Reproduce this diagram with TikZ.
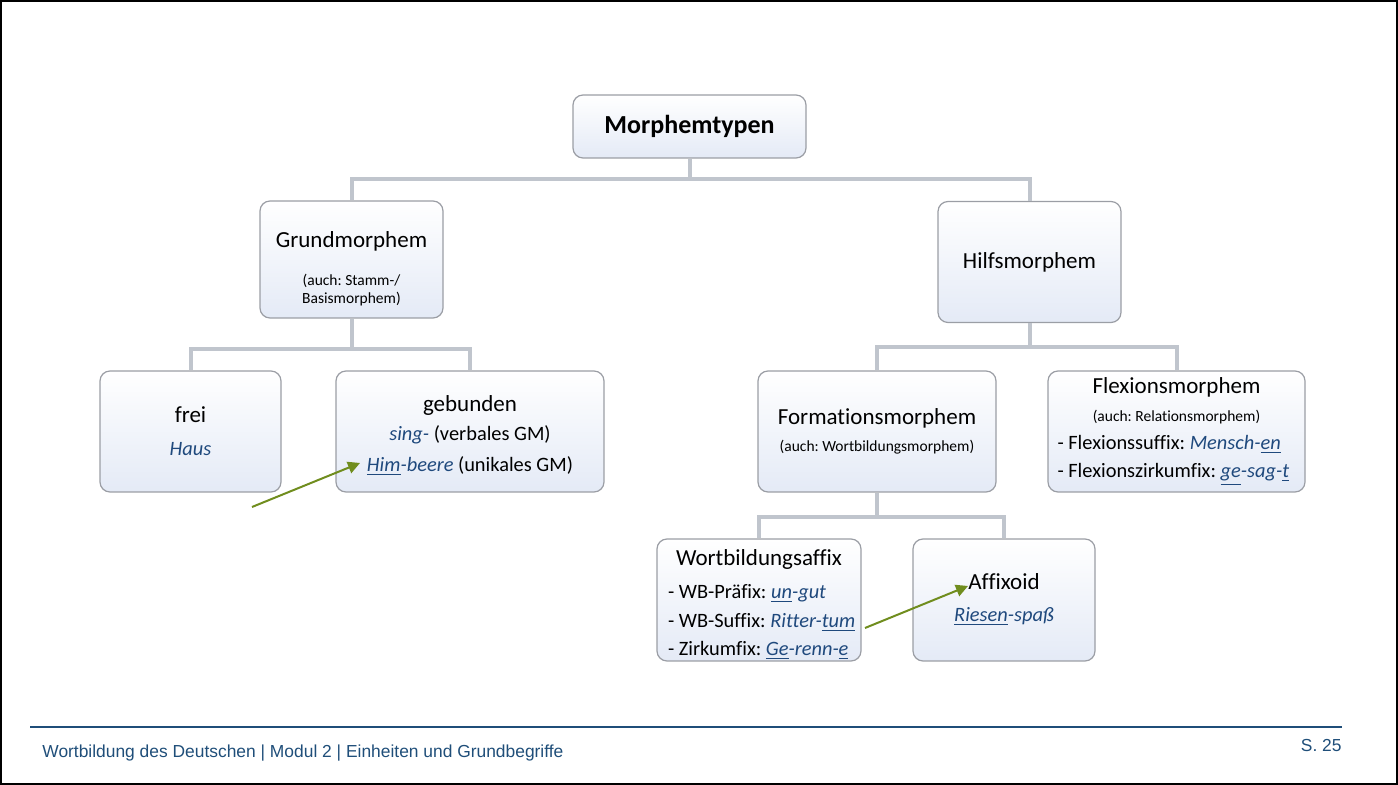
\documentclass[tikz,border=0pt]{standalone}
\usepackage{fontspec}
\setmainfont{Carlito}[Ligatures=NoCommon]
\newfontfamily\footfont{Liberation Sans}
\usetikzlibrary{arrows.meta}
\definecolor{exblue}{RGB}{31,73,125}
\definecolor{footblue}{RGB}{31,78,121}
\definecolor{boxgray}{RGB}{155,158,165}
\definecolor{boxblue}{RGB}{228,234,246}
\definecolor{conngray}{RGB}{192,197,205}
\definecolor{arrowgreen}{RGB}{112,141,30}
\newcommand{\bsp}[1]{{\color{exblue}\itshape #1}}
\newcommand{\unter}[1]{\underline{#1}}
\newcommand{\ttl}[1]{{\fontsize{11.5}{15}\selectfont #1}}
\newcommand{\klein}[1]{{\fontsize{7.75}{9}\selectfont #1}}
\newcommand{\mitte}[1]{\hspace*{\fill}#1\hspace*{\fill}\null}
\frenchspacing
\begin{document}
\begin{tikzpicture}[
	x=0.5pt, y=-0.5pt,
	box/.style={shape=rectangle, draw=boxgray, line width=0.6pt, rounded corners=5pt,
		top color=white, bottom color=boxblue, inner sep=0pt, align=flush center,
		font=\fontsize{10.2}{15}\selectfont},
	listbox/.style={box, align=flush left},
	conn/.style={draw=conngray, line width=2pt},
	hint/.style={draw=arrowgreen, line width=1pt, -{Triangle[length=6pt,width=6pt]}},
	foot/.style={inner sep=0pt, text=footblue, font=\footfont\fontsize{8.7}{10}\selectfont},
]
\useasboundingbox (0,0) rectangle (1398,785);
\draw[black, line width=0.8pt] (1,1) rectangle (1397,784);

% Ebene 1
\node[box, minimum width=116.5pt, minimum height=31.5pt, text width=106pt] (typen) at (689.5,126.5)
	{{\fontsize{13}{15}\selectfont\bfseries Morphemtypen}};

% Ebene 2
\node[box, minimum width=91.5pt, minimum height=58.5pt, text width=82pt] (grund) at (351.5,259.5)
	{\rule{0pt}{17pt}\ttl{Grundmorphem}\\[4pt] \klein{(auch: Stamm-/}\\[-6pt] \klein{Basismorphem)}};
\node[box, minimum width=91.5pt, minimum height=60.5pt, text width=82pt] (hilf) at (1029.5,262)
	{\ttl{Hilfsmorphem}};

% Ebene 3
\node[box, minimum width=90.5pt, minimum height=60.5pt, text width=80pt] (frei) at (190.5,431.5)
	{\ttl{frei}\\[1.5pt] \bsp{Haus}};
\node[box, minimum width=134pt, minimum height=60.5pt, text width=124pt] (gebunden) at (470,431.5)
	{\rule{0pt}{12pt}\ttl{gebunden}\\[-0.5pt] \bsp{sing-} (verbales GM)\\[0.5pt] \bsp{\unter{Him}-beere} (unikales GM)};
\node[box, minimum width=119pt, minimum height=60.5pt, text width=109pt] (formation) at (877,431.5)
	{\ttl{Formationsmorphem}\\[-1.5pt] \klein{(auch: Wortbildungsmorphem)}};
\node[listbox, minimum width=128.5pt, minimum height=60.5pt, text width=119pt] (flexion) at (1176.5,431.5)
	{\mitte{\ttl{Flexionsmorphem}}\\[-1pt]
	 \mitte{\klein{(auch: Relationsmorphem)}}\\[-1pt]
	 - Flexionssuffix: \bsp{Mensch-\unter{en}}\\[-1pt]
	 - Flexionszirkumfix: \bsp{\unter{ge}-sag-\unter{t}}};

% Ebene 4
\node[listbox, minimum width=102pt, minimum height=61pt, text width=91pt] (wbaffix) at (759,600)
	{\rule{0pt}{13pt}\mitte{\ttl{Wortbildungsaffix}}\\[1.2pt]
	 \mbox{- WB-Präfix: \bsp{\unter{un}-gut}}\\[-0.5pt]
	 \mbox{- WB-Suffix: \bsp{Ritter-\unter{tum}}}\\[-0.7pt]
	 \mbox{- Zirkumfix: \bsp{\unter{Ge}-renn-\unter{e}}}};
\node[box, minimum width=91pt, minimum height=61pt, text width=81pt] (affixoid) at (1004,600)
	{\ttl{Affixoid}\\[1pt] \bsp{\unter{Riesen}-spaß}};

% Verbindungen
\draw[conn] (typen.south) -- ++(0,20) -| (grund.north);
\draw[conn] (typen.south) -- ++(0,20) -| (hilf.north);
\draw[conn] (grund.south) -- ++(0,30) -| (frei.north);
\draw[conn] (grund.south) -- ++(0,30) -| (gebunden.north);
\draw[conn] (hilf.south) -- ++(0,24) -| (formation.north);
\draw[conn] (hilf.south) -- ++(0,24) -| (flexion.north);
\draw[conn] (formation.south) -- ++(0,24) -| (wbaffix.north);
\draw[conn] (formation.south) -- ++(0,24) -| (affixoid.north);

% Hinweispfeile
\coordinate (himstart) at (252,507);
\coordinate (himend) at (360,463);
\coordinate (affstart) at (865,628);
\coordinate (affend) at (968,586);
\draw[hint] (himstart) -- (himend);
\draw[hint] (affstart) -- (affend);

% Fusszeile
\coordinate (lineleft) at (30,727);
\coordinate (lineright) at (1342,727);
\draw[footblue, line width=1pt] (lineleft) -- (lineright);
\node[foot, anchor=west] (fusstext) at (42,753)
	{Wortbildung des Deutschen | Modul 2 | Einheiten und Grundbegriffe};
\node[foot, anchor=east] (seite) at (1342,746) {S. 25};
\end{tikzpicture}
\end{document}
